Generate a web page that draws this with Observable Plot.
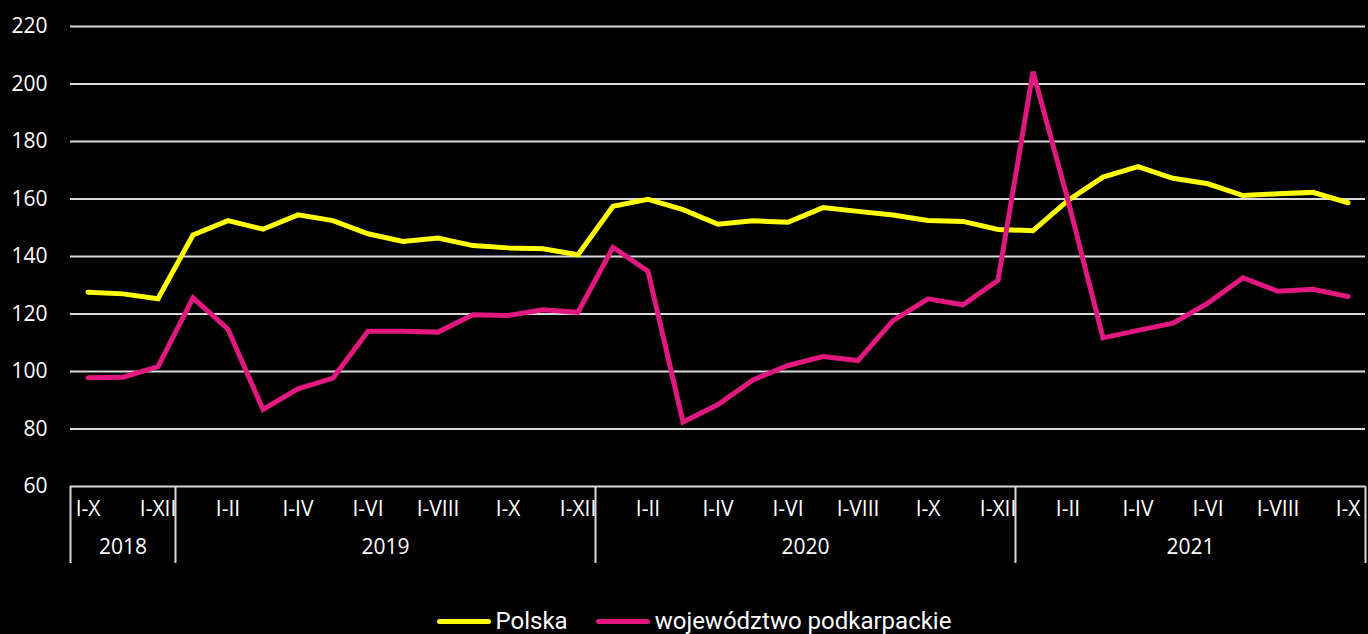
<!DOCTYPE html>
<html><head><meta charset="utf-8">
<script src="https://cdn.jsdelivr.net/npm/d3@7"></script>
<script src="https://cdn.jsdelivr.net/npm/@observablehq/plot@0.6"></script>
<style>
html,body{margin:0;padding:0;background:#000;overflow:hidden;}
#legend{height:42px;display:flex;justify-content:center;align-items:center;font-family:Roboto,sans-serif;font-size:24px;color:#fff;padding-left:20px;}
.item{display:flex;align-items:center;margin:0 14px;}
.sw{width:54px;height:5px;border-radius:3px;margin-right:5px;}
</style></head><body>
<div id="chart"></div>
<div id="legend"></div>
<script>
const years = ["2018", "2019", "2020", "2021"];
const monthsPerYear = [3, 12, 12, 10];
const monthLabels = [
  "I-X", "I-XI", "I-XII",
  "I", "I-II", "I-III", "I-IV", "I-V", "I-VI", "I-VII", "I-VIII", "I-IX", "I-X", "I-XI", "I-XII",
  "I", "I-II", "I-III", "I-IV", "I-V", "I-VI", "I-VII", "I-VIII", "I-IX", "I-X", "I-XI", "I-XII",
  "I", "I-II", "I-III", "I-IV", "I-V", "I-VI", "I-VII", "I-VIII", "I-IX", "I-X"
];
const polska = [
  127.6, 127.0, 125.3,
  147.5, 152.5, 149.5, 154.5, 152.5, 147.9, 145.2, 146.4, 143.8, 143.0, 142.7, 140.6,
  157.5, 159.9, 156.3, 151.2, 152.4, 151.9, 157.0, 155.7, 154.4, 152.5, 152.2, 149.4,
  149.0, 159.5, 167.6, 171.3, 167.2, 165.3, 161.2, 161.8, 162.3, 158.7
];
const podkarpackie = [
  97.8, 98.0, 101.7,
  125.6, 114.7, 86.8, 94.0, 97.7, 114.0, 114.0, 113.7, 119.7, 119.5, 121.5, 120.6,
  143.2, 134.9, 82.4, 88.5, 97.1, 102.1, 105.2, 103.8, 117.7, 125.3, 123.2, 131.7,
  204.3, 159.5, 111.7, 114.3, 116.8, 123.8, 132.6, 127.9, 128.6, 126.1
];
const seriesNames = ["Polska", "województwo podkarpackie"];
const seriesColors = ["#ffff00", "#e0187f"];
const yTicks = [60, 80, 100, 120, 140, 160, 180, 200, 220];

// derived tables
const rows = [];
[polska, podkarpackie].forEach((vals, s) => vals.forEach((v, i) => rows.push({i, v, s: seriesNames[s]})));
const tickRows = monthLabels.map((label, i) => ({i, label})).filter(d => d.i % 2 === 0);
const bounds = [-0.5];
const yearRows = [];
let acc = 0;
monthsPerYear.forEach((n, k) => {
  yearRows.push({year: years[k], c: acc + (n - 1) / 2});
  acc += n;
  bounds.push(acc - 0.5);
});

const chart = Plot.plot({
  width: 1368,
  height: 600,
  marginTop: 26,
  marginLeft: 70,
  marginRight: 3,
  marginBottom: 37,
  style: {background: "#000", color: "#fff", fontFamily: "'Open Sans', sans-serif", fontSize: "21px"},
  x: {type: "linear", domain: [-0.5, monthLabels.length - 0.5], axis: null},
  y: {domain: [60, 220], range: [486, 26], axis: null},
  color: {domain: seriesNames, range: seriesColors},
  marks: [
    Plot.ruleY(yTicks, {stroke: "#d9d9d9", strokeWidth: 2}),
    Plot.ruleX(bounds, {x: d => d, y1: () => 60, y2: () => 60, insetBottom: -77, stroke: "#d9d9d9", strokeWidth: 2}),
    Plot.axisY(yTicks, {tickSize: 0, tickPadding: 23, fontSize: 21, fill: "#fff", label: null}),
    Plot.text(tickRows, {x: "i", y: () => 60, dy: 23, text: "label", fill: "#fff", fontSize: 21}),
    Plot.text(yearRows, {x: "c", y: () => 60, dy: 61, text: "year", fill: "#fff", fontSize: 21}),
    Plot.line(rows, {x: "i", y: "v", z: "s", stroke: "s", strokeWidth: 5, strokeLinejoin: "miter", strokeMiterlimit: 2, strokeLinecap: "round"})
  ]
});
document.getElementById("chart").appendChild(chart);

const legend = document.getElementById("legend");
seriesNames.forEach((name, k) => {
  const it = document.createElement("div");
  it.className = "item";
  const sw = document.createElement("div");
  sw.className = "sw";
  sw.style.background = seriesColors[k];
  const t = document.createElement("span");
  t.textContent = name;
  it.appendChild(sw);
  it.appendChild(t);
  legend.appendChild(it);
});
</script>
</body></html>
